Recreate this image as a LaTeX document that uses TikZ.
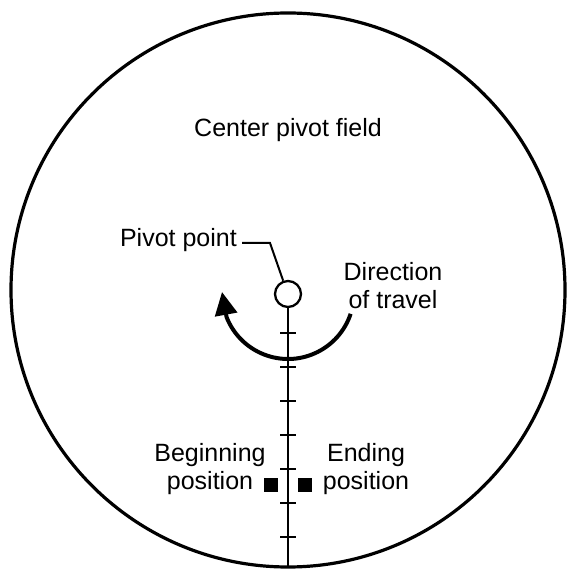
\documentclass[tikz,border=0pt]{standalone}
\usepackage{fontspec}
\setmainfont{Liberation Sans}
\usetikzlibrary{arrows.meta}
\begin{document}
\begin{tikzpicture}[x=1pt,y=1pt,
  lbl/.style={font=\fontsize{25}{28}\selectfont, inner sep=0pt, align=center},
  tick/.style={line width=2.3pt},
  sq/.style={fill=black, minimum size=14pt, inner sep=0pt}]
\useasboundingbox (0,0) rectangle (566,570);
% field
\node[draw, circle, line width=3.2pt, minimum size=554pt, inner sep=0pt] (field) at (288,280) {};
\node[lbl] (title) at (288,440) {Center pivot field};
% pivot
\node[draw, circle, line width=2.3pt, minimum size=26pt, inner sep=0pt] (pc) at (288,276) {};
\coordinate (lineend) at (288,3);
\draw[line width=2.3pt] (pc.south) -- (lineend);
\foreach \yy in {237,203,169,135,101,67,33}{
  \coordinate (tl) at (280,\yy); \coordinate (tr) at (296,\yy);
  \draw[tick] (tl) -- (tr);
}
% pivot label
\node[lbl, anchor=base east] (pp) at (237,323) {Pivot point};
\coordinate (lk) at (270,327);
\draw[line width=2pt] ([xshift=5pt,yshift=4pt]pp.base east) -- (lk) -- (pc.110);
% direction of travel
\coordinate (arcstart) at ({288+66*cos(-18.4)},{277+66*sin(-18.4)});
\coordinate (tip) at (222,278);
\draw[line width=4pt, -{Triangle[length=23pt,width=22pt]}]
  (arcstart) arc[start angle=-18.4, end angle=-158.5, radius=66pt] -- (tip);
\node[lbl] (dir) at (393,284) {Direction\\of travel};
% positions
\node[lbl] (beg) at (210,101) {Beginning\\position};
\node[lbl] (endp) at (366,101) {Ending\\position};
\node[sq] (sqb) at (270.5,85) {};
\node[sq] (sqe) at (305,85) {};
\end{tikzpicture}
\end{document}
